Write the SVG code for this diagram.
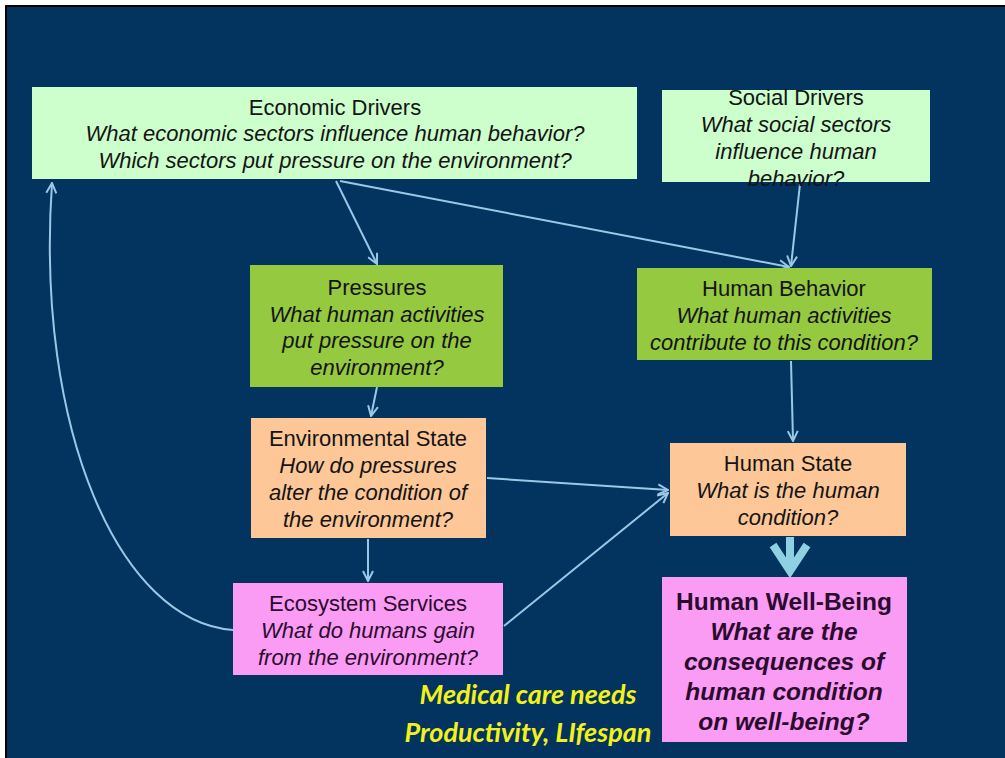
<svg xmlns="http://www.w3.org/2000/svg" width="1005" height="758" viewBox="0 0 1005 758">
  <defs>
    <style>
      .t { font-family: "Liberation Sans", Arial, sans-serif; font-size: 22px; text-anchor: middle; fill: #141414; }
      .i { font-style: italic; }
      .pk { fill: #2b0b2e; }
      .wb { font-size: 24.5px; font-weight: bold; fill: #2b0b2e; }
      .note { font-family: Lato, "Open Sans", sans-serif; font-size: 27px; font-weight: bold; font-style: italic; fill: #f2f21a; text-anchor: middle; }
      .lg { fill: #ccffcc; }
      .gr { fill: #94c940; }
      .or { fill: #fdc797; }
      .pn { fill: #fb9cf4; }
      .edge { fill: none; stroke: #9cc8e8; stroke-width: 2; }
    </style>
    <marker id="ah" viewBox="0 0 12 12" refX="11" refY="6" markerWidth="12" markerHeight="12" markerUnits="userSpaceOnUse" orient="auto">
      <path d="M1,1 L11,6 L1,11" fill="none" stroke="#9cc8e8" stroke-width="2"/>
    </marker>
  </defs>

  <!-- page frame -->
  <rect x="0" y="0" width="1005" height="758" fill="#ffffff"/>
  <rect x="5" y="5" width="1000" height="753" fill="#000000"/>
  <rect x="7" y="7" width="998" height="751" fill="#03335f"/>

  <!-- connectors -->
  <g id="connectors">
    <path class="edge" d="M336,181 L377,264" marker-end="url(#ah)"/>
    <path class="edge" d="M340,181 L789,267" marker-end="url(#ah)"/>
    <path class="edge" d="M800,184 L791,266" marker-end="url(#ah)"/>
    <path class="edge" d="M377,387 L371,416" marker-end="url(#ah)"/>
    <path class="edge" d="M791,361 L793,441" marker-end="url(#ah)"/>
    <path class="edge" d="M487,478 L668,490" marker-end="url(#ah)"/>
    <path class="edge" d="M504,626 L668,493" marker-end="url(#ah)"/>
    <path class="edge" d="M368,539 L368,581" marker-end="url(#ah)"/>
    <path class="edge" d="M233,630 C 120,622 35,430 52,183" marker-end="url(#ah)"/>
    <!-- thick arrow into well-being -->
    <path d="M790,537 L790,568" fill="none" stroke="#8fd0e2" stroke-width="8"/>
    <path d="M773,545 L790,571 L807,545" fill="none" stroke="#8fd0e2" stroke-width="8" stroke-linejoin="miter"/>
  </g>

  <g id="economic-drivers">
    <rect class="lg" x="32" y="87" width="605" height="92"/>
    <text class="t" x="335" y="115">Economic Drivers</text>
    <text class="t i" x="335" y="141">What economic sectors influence human behavior?</text>
    <text class="t i" x="335" y="168">Which sectors put pressure on the environment?</text>
  </g>

  <g id="social-drivers">
    <rect class="lg" x="662" y="90" width="268" height="92"/>
    <text class="t" x="796" y="105">Social Drivers</text>
    <text class="t i" x="796" y="132">What social sectors</text>
    <text class="t i" x="796" y="159">influence human</text>
    <text class="t i" x="796" y="186">behavior?</text>
  </g>

  <g id="pressures">
    <rect class="gr" x="250" y="265" width="253" height="122"/>
    <text class="t" x="377" y="295">Pressures</text>
    <text class="t i" x="377" y="322">What human activities</text>
    <text class="t i" x="377" y="348">put pressure on the</text>
    <text class="t i" x="377" y="375">environment?</text>
  </g>

  <g id="human-behavior">
    <rect class="gr" x="637" y="268" width="295" height="92"/>
    <text class="t" x="784" y="296">Human Behavior</text>
    <text class="t i" x="784" y="323">What human activities</text>
    <text class="t i" x="784" y="350">contribute to this condition?</text>
  </g>

  <g id="environmental-state">
    <rect class="or" x="251" y="418" width="235" height="120"/>
    <text class="t" x="368" y="446">Environmental State</text>
    <text class="t i" x="368" y="473">How do pressures</text>
    <text class="t i" x="368" y="500">alter the condition of</text>
    <text class="t i" x="368" y="527">the environment?</text>
  </g>

  <g id="human-state">
    <rect class="or" x="670" y="443" width="236" height="93"/>
    <text class="t" x="788" y="471">Human State</text>
    <text class="t i" x="788" y="498">What is the human</text>
    <text class="t i" x="788" y="525">condition?</text>
  </g>

  <g id="ecosystem-services">
    <rect class="pn" x="233" y="583" width="270" height="92"/>
    <text class="t pk" x="368" y="611">Ecosystem Services</text>
    <text class="t i pk" x="368" y="638">What do humans gain</text>
    <text class="t i pk" x="368" y="665">from the environment?</text>
  </g>

  <g id="human-well-being">
    <rect class="pn" x="662" y="577" width="245" height="165"/>
    <text class="t wb" x="784" y="610">Human Well-Being</text>
    <text class="t wb i" x="784" y="640">What are the</text>
    <text class="t wb i" x="784" y="670">consequences of</text>
    <text class="t wb i" x="784" y="700">human condition</text>
    <text class="t wb i" x="784" y="730">on well-being?</text>
  </g>

  <g id="note">
    <text class="note" x="528" y="704">Medical care needs</text>
    <text class="note" x="528" y="742">Productivity, LIfespan</text>
  </g>
</svg>
